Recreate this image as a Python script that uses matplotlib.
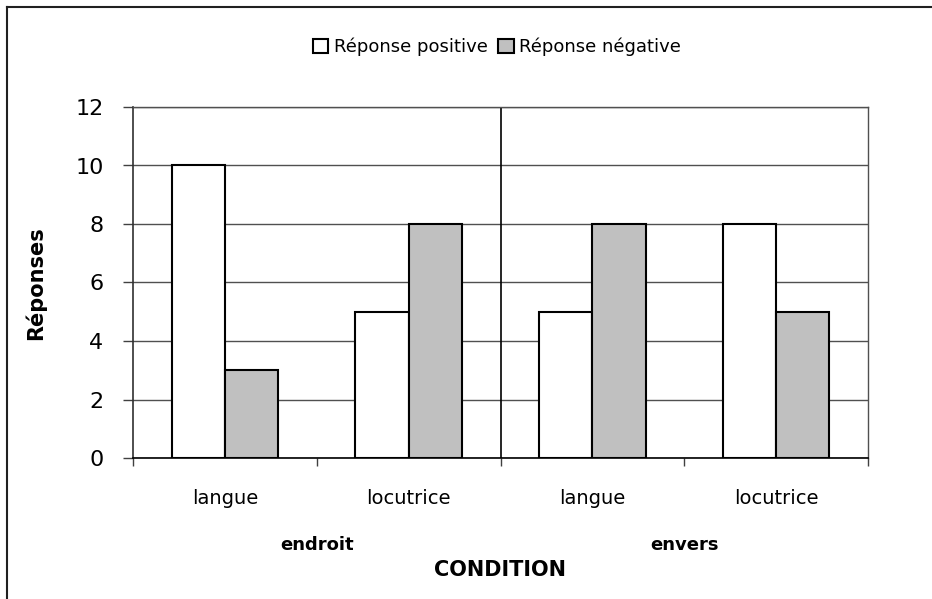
import matplotlib
matplotlib.use("Agg")
import matplotlib.pyplot as plt
from matplotlib.patches import Patch
from matplotlib.lines import Line2D
import numpy as np

# ---- data ----
categories = ["langue", "locutrice", "langue", "locutrice"]
groups = ["endroit", "envers"]
positive = [10, 5, 5, 8]
negative = [3, 8, 8, 5]
series_names = ["Réponse positive", "Réponse négative"]
yticks = [0, 2, 4, 6, 8, 10, 12]

plt.rcParams['font.family'] = ['DejaVu Sans']

W, H = 932, 599
fig = plt.figure(figsize=(W / 100, H / 100), dpi=100)
fig.patch.set_facecolor('white')

def fx(px):
    return px / W

def fy(py):
    return 1 - py / H

left, right, top, bottom = 133, 868, 107, 458
ax = fig.add_axes([fx(left), fy(bottom), fx(right - left), fy(top) - fy(bottom)])

x = np.arange(len(categories))
bw = 0.29
ax.bar(x - bw / 2, positive, width=bw, color='white', edgecolor='black', linewidth=1.5, zorder=3)
ax.bar(x + bw / 2, negative, width=bw, color='#C0C0C0', edgecolor='black', linewidth=1.5, zorder=3)

ax.set_xlim(-0.5, len(categories) - 0.5)
ax.set_ylim(0, 12)
ax.set_yticks(yticks)
ax.set_yticklabels([str(v) for v in yticks], fontsize=16)
ax.tick_params(axis='y', length=7.2, width=1, pad=14, color='#404040')

ax.set_xticks(x)
ax.set_xticklabels(categories, fontsize=14)
ax.tick_params(axis='x', which='major', length=0, pad=22)
ax.set_xticks(np.arange(len(categories) + 1) - 0.5, minor=True)
ax.tick_params(axis='x', which='minor', length=5.5, width=1, color='#404040')

ax.yaxis.grid(True, color='#505050', linewidth=1, zorder=1)
ax.set_axisbelow(True)

for s in ['top', 'right']:
    ax.spines[s].set_color('#505050')
    ax.spines[s].set_linewidth(1)
ax.spines['left'].set_color('#303030')
ax.spines['bottom'].set_color('black')
ax.spines['left'].set_linewidth(1.2)
ax.spines['bottom'].set_linewidth(1.2)

# group separator
ax.axvline(1.5, color='black', linewidth=1.2, zorder=2)

# group labels
for i, g in enumerate(groups):
    ax.text(2 * i + 0.5, (bottom - 545) / (bottom - top), g, transform=ax.get_xaxis_transform(),
            ha='center', va='center', fontsize=13, fontweight='bold')

fig.text(fx(500), fy(570), "CONDITION", ha='center', va='center', fontsize=15, fontweight='bold')
fig.text(fx(35), fy(283), "Réponses", ha='center', va='center', rotation=90, fontsize=15, fontweight='bold')

handles = [Patch(facecolor='white', edgecolor='black', linewidth=1.5),
           Patch(facecolor='#C0C0C0', edgecolor='black', linewidth=1.5)]
fig.legend(handles, series_names, loc='center', bbox_to_anchor=(fx(497), fy(47)), ncol=2,
           frameon=False, fontsize=13, handlelength=0.85, handleheight=0.85,
           handletextpad=0.3, columnspacing=0.6, borderpad=0)

# outer frame (cropped at right and bottom)
fig.add_artist(Line2D([fx(6.5), 1], [fy(6.5), fy(6.5)], color='#202020', linewidth=1.5))
fig.add_artist(Line2D([fx(6.5), fx(6.5)], [0, fy(6.5)], color='#202020', linewidth=1.5))

fig.savefig("out.png", dpi=100)
